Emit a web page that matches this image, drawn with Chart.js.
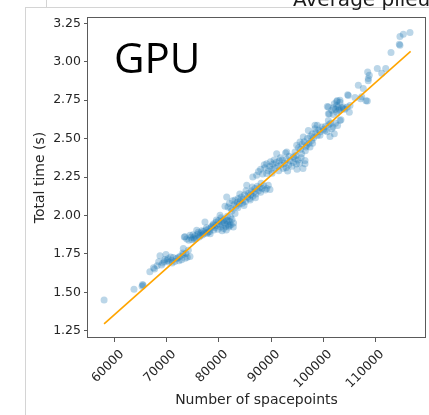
<!DOCTYPE html>
<html>
<head>
<meta charset="utf-8">
<script src="https://cdn.jsdelivr.net/npm/chart.js@4.4.0/dist/chart.umd.min.js"></script>
<style>
  html, body { margin: 0; padding: 0; background: #ffffff; overflow: hidden; }
  #wrap { position: relative; width: 429px; height: 415px; }
</style>
</head>
<body>
<div id="wrap"><canvas id="c" width="429" height="415"></canvas></div>
<script>
// Each run: [number of spacepoints, total time in seconds]
const runs = [
  [57900,1.450],[63650,1.519],[65200,1.540],[65400,1.545],[65300,1.550],
  [66700,1.633],[67400,1.660],[67600,1.652],[68100,1.672],[68400,1.698],[68650,1.737],[68950,1.677],
  [69200,1.690],[69500,1.700],[69600,1.714],[69800,1.746],[70050,1.705],[70200,1.718],[70400,1.695],
  [70700,1.730],[70900,1.709],[71000,1.690],[71200,1.727],[71500,1.700],[71850,1.720],[72170,1.727],
  [72300,1.705],[72500,1.735],[72800,1.712],[73020,1.756],[73130,1.746],[73500,1.722],[73650,1.753],
  [73900,1.728],[74100,1.774],[74420,1.733],[73140,1.785],
  [73330,1.860],[73460,1.862],[73790,1.847],[74200,1.838],[74420,1.871],[74600,1.858],[74800,1.842],
  [75000,1.875],[75100,1.855],[75300,1.845],[75400,1.866],[75600,1.850],[75710,1.904],[75900,1.878],
  [76000,1.890],[76200,1.860],[76400,1.870],[76500,1.885],[76700,1.900],[76800,1.872],[77000,1.895],
  [77100,1.880],[77300,1.958],[77500,1.905],[77600,1.920],[77700,1.884],[77900,1.890],[78000,1.912],
  [78200,1.896],[78300,1.880],[78500,1.922],[78900,1.936],
  [78600,1.930],[78900,1.945],[79000,1.905],[79200,1.920],[79400,1.955],[79500,1.970],[79600,1.935],
  [79800,1.910],[79900,1.965],[80000,1.945],[80200,2.001],[80300,1.925],[80400,1.985],[80500,1.960],
  [80600,1.900],[80700,1.940],[80800,1.965],[80900,1.915],[81000,1.975],[81100,1.950],[81300,1.930],
  [81400,1.905],[81500,1.970],[81600,1.995],[81700,1.945],[81800,1.965],[81900,1.925],[82000,1.935],
  [82100,1.960],[82200,1.990],[82300,1.940],[82500,1.975],[82750,1.925],[82800,1.950],[83080,2.012],
  [81150,2.060],[81480,2.120],[81730,2.055],[82000,2.080],[82300,2.045],[82500,2.030],[82600,2.095],
  [82900,2.070],[83100,2.100],[83300,2.060],[83500,2.085],[83600,2.050],[83700,2.110],[83900,2.075],
  [84000,2.140],[84100,2.095],[84300,2.120],[84500,2.080],[84700,2.105],[84800,2.065],[84900,2.135],
  [85100,2.090],[85200,2.160],[85330,2.196],[85500,2.120],[85700,2.145],[85900,2.110],[86000,2.100],
  [86100,2.135],[86300,2.160],[86400,2.185],[86500,2.125],[86700,2.150],[86900,2.175],[87000,2.115],
  [87100,2.140],[87370,2.190],[87600,2.160],[87800,2.180],[88000,2.150],[88100,2.210],[88300,2.175],
  [88600,2.195],[88900,2.165],[89170,2.175],[89480,2.196],[89800,2.168],
  [86500,2.250],[87240,2.261],[87600,2.285],[88000,2.300],[88400,2.270],[88700,2.330],[88800,2.310],
  [89170,2.272],[89170,2.337],[89500,2.290],[89800,2.320],[89900,2.350],[90100,2.300],[90200,2.275],
  [90400,2.335],[90600,2.360],[90700,2.310],[91000,2.345],[91090,2.402],[91300,2.320],[91500,2.290],
  [91600,2.355],[91800,2.375],[91900,2.330],[92200,2.360],[92370,2.305],[92600,2.340],[92800,2.406],
  [92900,2.310],[93000,2.365],[93200,2.289],[93400,2.330],[93500,2.385],[93700,2.355],[94000,2.320],
  [94300,2.345],[94600,2.370],[94800,2.390],[94900,2.335],[95000,2.300],[95200,2.360],[95500,2.340],
  [95800,2.375],[96150,2.306],[96540,2.337],[96540,2.358],
  [93020,2.412],[94290,2.380],[94620,2.412],[94940,2.456],[95300,2.440],[95580,2.477],[95700,2.430],
  [95900,2.402],[96000,2.465],[96210,2.510],[96400,2.480],[96600,2.420],[96700,2.445],[96860,2.456],
  [97000,2.500],[97180,2.553],[97300,2.470],[97500,2.445],[97600,2.515],[97830,2.488],[97900,2.530],
  [98000,2.470],[98200,2.505],[98460,2.564],[98460,2.586],[98600,2.540],[98900,2.586],[98900,2.520],
  [99200,2.555],[99420,2.521],[99500,2.545],[99800,2.575],[100100,2.560],[100380,2.553],[100500,2.580],
  [100800,2.545],[101030,2.618],[101100,2.590],[101350,2.514],[101500,2.600],[101670,2.564],[101900,2.575],
  [102170,2.532],[102400,2.600],[102800,2.585],[103270,2.618],
  [100830,2.709],[101030,2.705],[101030,2.662],[101210,2.662],[101700,2.685],[101980,2.657],[102000,2.700],
  [102170,2.727],[102400,2.690],[102630,2.672],[102630,2.716],[102630,2.741],[102750,2.748],[102900,2.705],
  [103010,2.683],[103130,2.690],[103270,2.737],[103270,2.750],[103460,2.623],[103600,2.700],[103900,2.694],
  [103900,2.705],[104200,2.690],[104670,2.705],[104750,2.785],[104870,2.780],[105060,2.672],[105190,2.716],
  [106150,2.767],[107250,2.759],[107440,2.772],[108270,2.746],[108520,2.744],
  [106790,2.847],[107750,2.826],[108700,2.877],[108710,2.891],[108900,2.912],[108590,2.933],[110440,2.956],
  [111290,2.925],[112060,2.956],[113080,3.060],[114680,3.114],[114800,3.107],[114800,3.164],[115440,3.179],
  [116730,3.190]
];

// Linear fit drawn across the sampled range
const fitSpacepoints = [57900, 116850];
const fitSeconds = [1.295, 3.067];

const xTickValues = [60000, 70000, 80000, 90000, 100000, 110000];
const yTickValues = [1.25, 1.50, 1.75, 2.00, 2.25, 2.50, 2.75, 3.00, 3.25];

const panelLabel = 'GPU';
const headerText = 'Average pileup';
const xTitle = 'Number of spacepoints';
const yTitle = 'Total time (s)';

Chart.defaults.font.family = "'DejaVu Sans', sans-serif";
const inkColor = '#262626';
const spineColor = '#5a5a5a';

const decorations = {
  id: 'decorations',
  beforeDraw(chart) {
    const ctx = chart.ctx;
    ctx.save();
    ctx.fillStyle = '#ffffff';
    ctx.fillRect(0, 0, chart.width, chart.height);
    ctx.strokeStyle = '#d4d4d4';
    ctx.lineWidth = 1;
    ctx.beginPath();
    ctx.moveTo(25.5, 7); ctx.lineTo(25.5, chart.height);
    ctx.moveTo(25, 7.5); ctx.lineTo(chart.width, 7.5);
    ctx.moveTo(46.5, 0); ctx.lineTo(46.5, 7);
    ctx.stroke();
    ctx.font = "20px 'DejaVu Sans'";
    ctx.fillStyle = '#1a1a1a';
    ctx.textBaseline = 'alphabetic';
    ctx.fillText(headerText, 293, 6);
    ctx.restore();
  },
  afterDraw(chart) {
    const {ctx, chartArea: a} = chart;
    ctx.save();
    ctx.strokeStyle = spineColor;
    ctx.lineWidth = 1;
    ctx.strokeRect(Math.round(a.left) - 0.5, Math.round(a.top) + 0.5,
                   Math.round(a.right - a.left) + 1, Math.round(a.bottom - a.top) - 1);
    ctx.font = "42px 'Open Sans'";
    ctx.fillStyle = '#000000';
    ctx.textBaseline = 'alphabetic';
    ctx.fillText(panelLabel, 114, 73);
    ctx.restore();
  }
};

new Chart(document.getElementById('c').getContext('2d'), {
  type: 'scatter',
  data: {
    datasets: [
      {
        label: 'fit',
        data: fitSpacepoints.map((x, i) => ({x, y: fitSeconds[i]})),
        showLine: true,
        borderColor: '#ffa500',
        borderWidth: 1.6,
        pointRadius: 0,
        order: 0
      },
      {
        label: 'runs',
        data: runs.map(([x, y]) => ({x, y})),
        pointRadius: 3.5,
        pointBackgroundColor: 'rgba(31,119,180,0.3)',
        pointBorderWidth: 0,
        order: 1
      }
    ]
  },
  options: {
    responsive: false,
    animation: false,
    devicePixelRatio: 1,
    layout: { padding: { top: 17, right: 4, left: 0, bottom: 0 } },
    plugins: { legend: { display: false }, tooltip: { enabled: false } },
    scales: {
      x: {
        type: 'linear',
        min: 54808,
        max: 119615,
        afterFit: s => { s.height = 77; },
        afterBuildTicks: s => { s.ticks = xTickValues.map(v => ({value: v})); },
        border: { display: false },
        grid: { drawOnChartArea: false, drawTicks: true, tickLength: 4, tickColor: spineColor, tickWidth: 1 },
        ticks: {
          autoSkip: false, minRotation: 45, maxRotation: 45, padding: 5, labelOffset: 7,
          color: inkColor, font: { size: 12.5 },
          callback: v => String(v)
        },
        title: {
          display: true, text: xTitle, color: inkColor,
          font: { size: 14 }, padding: { top: 0, bottom: 6 }
        }
      },
      y: {
        type: 'linear',
        min: 1.2025,
        max: 3.291,
        afterFit: s => { s.width = 88; },
        afterBuildTicks: s => { s.ticks = yTickValues.map(v => ({value: v})); },
        border: { display: false },
        grid: { drawOnChartArea: false, drawTicks: true, tickLength: 4, tickColor: spineColor, tickWidth: 1 },
        ticks: {
          padding: 3, color: inkColor, font: { size: 12.5 },
          callback: v => Number(v).toFixed(2)
        },
        title: {
          display: true, text: yTitle, color: inkColor,
          font: { size: 14 }, padding: { top: 32, bottom: 0 }
        }
      }
    }
  },
  plugins: [decorations]
});
</script>
</body>
</html>
